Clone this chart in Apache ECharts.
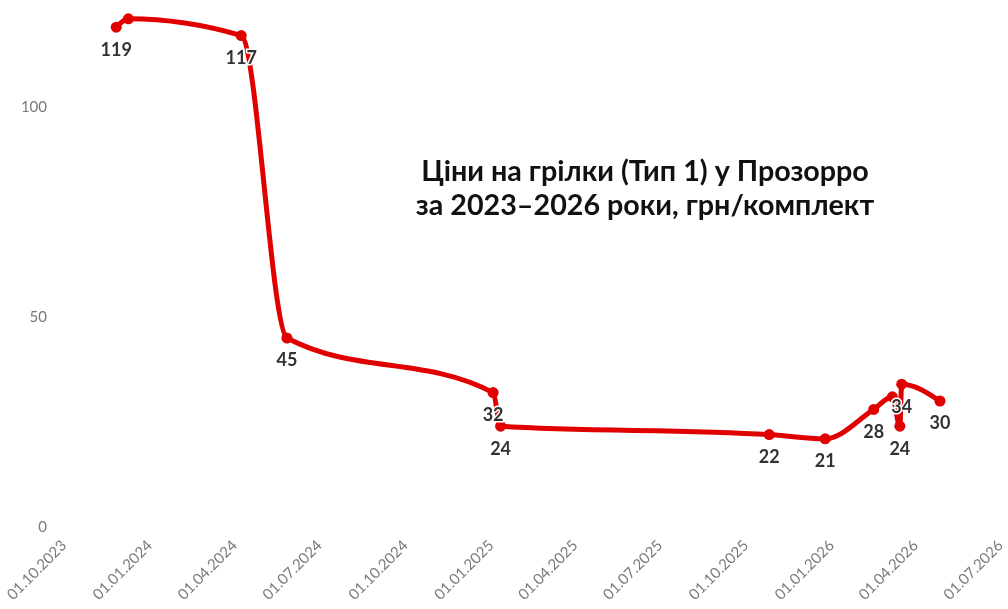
<!DOCTYPE html>
<html>
<head>
<meta charset="utf-8">
<script src="https://cdn.jsdelivr.net/npm/echarts@6/dist/echarts.min.js"></script>
<style>
html,body{margin:0;padding:0;background:#fff;}
#c{width:1008px;height:609px;}
</style>
</head>
<body>
<div id="c"></div>
<script>
// ---- data ----
var dates = ['2023-11-26','2023-12-09','2024-04-08','2024-05-27','2025-01-03','2025-01-11','2025-10-26','2025-12-25','2026-02-15','2026-03-07','2026-03-15','2026-03-17','2026-04-27'];
var prices = [119,121,117,45,32,24,22,21,28,31,24,34,30];
var showLabel = [true,false,true,true,true,true,true,true,true,false,true,true,true];
var tickDates = ['2023-10-01','2024-01-01','2024-04-01','2024-07-01','2024-10-01','2025-01-01','2025-04-01','2025-07-01','2025-10-01','2026-01-01','2026-04-01','2026-07-01'];
var yTicks = [0,50,100];
var titleText = 'Ціни на грілки (Тип 1) у Прозорро\nза 2023–2026 роки, грн/комплект';

function ts(s){var p=s.split('-');return Date.UTC(+p[0],+p[1]-1,+p[2]);}
function fmt(v){var d=new Date(v);function z(n){return (n<10?'0':'')+n;}return z(d.getUTCDate())+'.'+z(d.getUTCMonth()+1)+'.'+d.getUTCFullYear();}

var seriesData = dates.map(function(d,i){
  return {value:[ts(d),prices[i]], label:{show:showLabel[i]}};
});
var tickVals = tickDates.map(ts);
var RED = '#e00000';

function sign(x){return x<0?-1:1;}
// monotone-x cubic curve through pixel points (computed from library coords)
function monotonePieces(pts){
  var n=pts.length, t=new Array(n), i;
  var h=[], s=[];
  for(i=0;i<n-1;i++){h[i]=pts[i+1][0]-pts[i][0]; s[i]=(pts[i+1][1]-pts[i][1])/h[i];}
  for(i=1;i<n-1;i++){
    var s0=s[i-1], s1=s[i], h0=h[i-1], h1=h[i];
    var p=(s0*h1+s1*h0)/(h0+h1);
    t[i]=(sign(s0)+sign(s1))*Math.min(Math.abs(s0),Math.abs(s1),0.5*Math.abs(p))||0;
  }
  t[0]=(3*s[0]-t[1])/2;
  t[n-1]=(3*s[n-2]-t[n-2])/2;
  var out=[];
  for(i=0;i<n-1;i++){
    var dx=h[i]/3;
    out.push({x1:pts[i][0],y1:pts[i][1],cpx1:pts[i][0]+dx,cpy1:pts[i][1]+dx*t[i],
              cpx2:pts[i+1][0]-dx,cpy2:pts[i+1][1]-dx*t[i+1],x2:pts[i+1][0],y2:pts[i+1][1]});
  }
  return out;
}

var chart = echarts.init(document.getElementById('c'));
chart.setOption({
  animation:false,
  backgroundColor:'#fff',
  title:{
    text:titleText,
    left:640, top:150,
    textAlign:'center',
    textStyle:{fontFamily:'Lato',fontWeight:'bold',fontSize:28.7,lineHeight:34,color:'#111'}
  },
  grid:{left:64,right:7,top:2,bottom:82,containLabel:false},
  xAxis:{
    type:'value',
    min:tickVals[0], max:tickVals[tickVals.length-1],
    axisLine:{show:false}, axisTick:{show:false}, splitLine:{show:false},
    axisLabel:{
      customValues:tickVals,
      formatter:function(v){return fmt(v);},
      rotate:45, margin:16,
      fontFamily:'Lato', fontSize:15, color:'#7a7a7a'
    }
  },
  yAxis:{
    type:'value', min:0, max:125,
    axisLine:{show:false}, axisTick:{show:false}, splitLine:{show:false},
    axisLabel:{customValues:yTicks, margin:17, fontFamily:'Lato', fontSize:15, color:'#7a7a7a'}
  },
  series:[{
    type:'custom',
    z:1,
    silent:true,
    data:[0],
    renderItem:function(params, api){
      var pts = dates.map(function(d,i){return api.coord([ts(d),prices[i]]);});
      var pieces = monotonePieces(pts);
      return {
        type:'group',
        children:pieces.map(function(sh){
          return {type:'bezierCurve', shape:sh, style:{stroke:RED,lineWidth:5,fill:null,lineCap:'round'}};
        })
      };
    }
  },{
    type:'line',
    z:3,
    data:seriesData,
    symbol:'circle', symbolSize:11,
    lineStyle:{opacity:0,width:0},
    itemStyle:{color:RED},
    label:{
      show:true, position:'bottom', distance:8,
      formatter:function(p){return p.value[1];},
      fontFamily:'Lato', fontWeight:'bold', fontSize:18, color:'#333',
      textBorderColor:'#fff', textBorderWidth:3
    }
  }]
});
</script>
</body>
</html>
